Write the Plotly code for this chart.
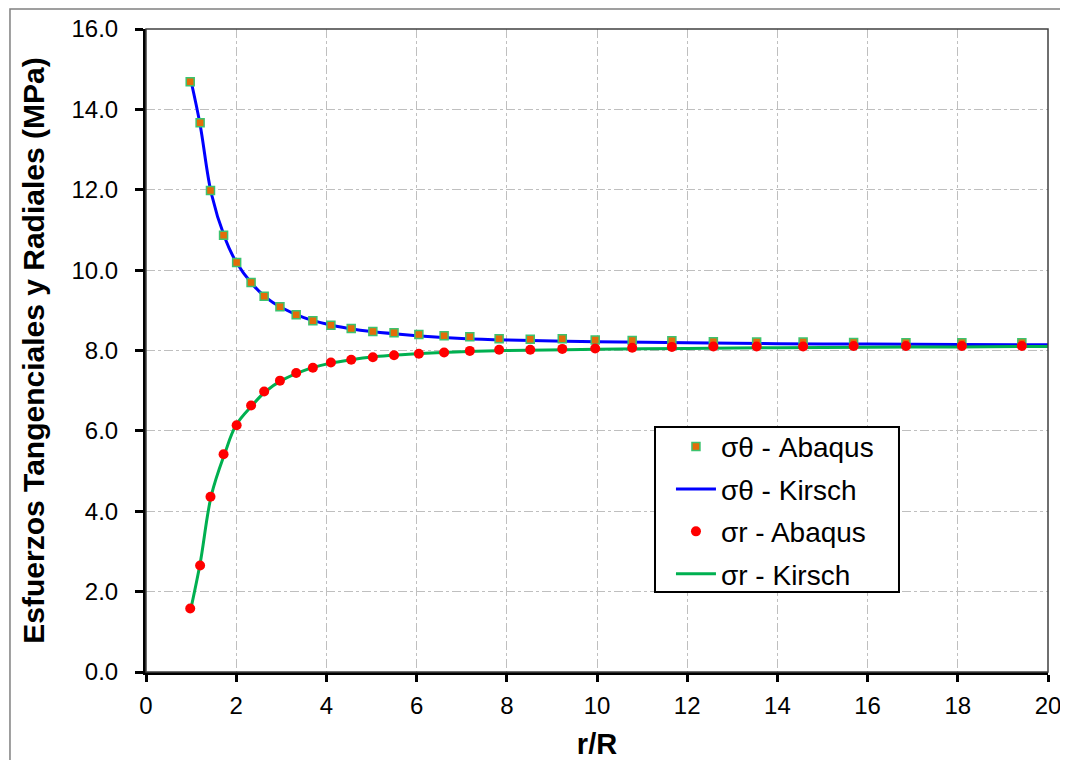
import plotly.graph_objects as go

FONT = "Liberation Sans, Arial, sans-serif"

# r/R of the Abaqus nodes
r_abaqus = [0.98, 1.20, 1.43, 1.72, 2.01, 2.33, 2.62, 2.97, 3.33, 3.70,
            4.10, 4.55, 5.03, 5.50, 6.05, 6.61, 7.18, 7.83, 8.52, 9.23,
            9.96, 10.78, 11.66, 12.58, 13.54, 14.57, 15.69, 16.85, 18.09, 19.42]
sig_t_abaqus = [14.69, 13.67, 11.98, 10.87, 10.19, 9.69, 9.35, 9.09, 8.89, 8.74,
                8.63, 8.55, 8.47, 8.44, 8.40, 8.37, 8.34, 8.29, 8.28, 8.29,
                8.26, 8.25, 8.24, 8.22, 8.21, 8.21, 8.20, 8.19, 8.19, 8.19]
sig_r_abaqus = [1.58, 2.65, 4.36, 5.42, 6.14, 6.63, 6.98, 7.25, 7.44, 7.57,
                7.70, 7.77, 7.83, 7.88, 7.92, 7.95, 7.99, 8.02, 8.02, 8.04,
                8.05, 8.07, 8.09, 8.10, 8.10, 8.10, 8.11, 8.11, 8.11, 8.11]

# Kirsch curves
r_kirsch = [1.0, 1.2, 1.45, 1.75, 2.0, 2.35, 2.65, 3.0, 3.5, 4.0, 4.5,
            5.0, 6.0, 7.0, 8.0, 10.0, 12.0, 14.0, 16.0, 18.0, 20.0]
sig_t_kirsch = [14.70, 13.62, 11.90, 10.80, 10.20, 9.66, 9.33, 9.07, 8.82, 8.66, 8.55,
                8.47, 8.37, 8.30, 8.26, 8.22, 8.19, 8.17, 8.16, 8.15, 8.14]
sig_r_kirsch = [1.60, 2.70, 4.40, 5.45, 6.15, 6.63, 6.98, 7.25, 7.50, 7.66, 7.76,
                7.84, 7.92, 7.97, 8.00, 8.03, 8.05, 8.07, 8.08, 8.09, 8.10]

fig = go.Figure()

fig.add_trace(go.Scatter(
    x=r_kirsch, y=sig_t_kirsch, mode="lines", name="σθ - Kirsch",
    line=dict(color="#0000FF", width=3, shape="spline"),
    legendrank=2, legendgroup="b",
))
fig.add_trace(go.Scatter(
    x=r_kirsch, y=sig_r_kirsch, mode="lines", name="σr - Kirsch",
    line=dict(color="#00B050", width=3, shape="spline"),
    legendrank=4, legendgroup="d",
))
fig.add_trace(go.Scatter(
    x=r_abaqus, y=sig_t_abaqus, mode="markers", name="σθ - Abaqus",
    marker=dict(symbol="square", size=8, color="#E36C09",
                line=dict(color="#3CC36E", width=1.5)),
    legendrank=1, legendgroup="a",
))
fig.add_trace(go.Scatter(
    x=r_abaqus, y=sig_r_abaqus, mode="markers", name="σr - Abaqus",
    marker=dict(symbol="circle", size=10, color="#FF0000", line=dict(width=0)),
    legendrank=3, legendgroup="c",
))

# the page body adds an 8px offset, so the figure is sized to end at the window edge
fig.update_layout(
    width=1060,
    height=752,
    margin=dict(l=138, r=20, t=21, b=88),
    plot_bgcolor="white",
    paper_bgcolor="white",
    font=dict(family=FONT, color="#000000", size=23),
    showlegend=True,
    legend=dict(
        x=0.582, y=0.389, xanchor="left", yanchor="top",
        bgcolor="rgba(0,0,0,0)", borderwidth=0,
        font=dict(family=FONT, size=28, color="#000000"),
        tracegroupgap=3, itemwidth=40,
    ),
    shapes=[
        # outer chart frame
        dict(type="rect", xref="paper", yref="paper",
             x0=-0.1508, x1=1.0177, y0=-0.2, y1=1.0311,
             line=dict(color="#808080", width=1.5), layer="below"),
        # plot area frame
        dict(type="rect", xref="paper", yref="paper",
             x0=0, x1=1, y0=0, y1=1,
             line=dict(color="#404040", width=1.5), layer="above"),
        # legend box
        dict(type="rect", xref="paper", yref="paper",
             x0=0.5643, x1=0.8348, y0=0.1244, y1=0.381,
             fillcolor="white", line=dict(color="#000000", width=2), layer="above"),
    ],
)

fig.update_xaxes(
    range=[0, 20], dtick=2, tick0=0, automargin=False,
    showgrid=True, gridcolor="#BFBFBF", gridwidth=1, griddash="dashdot",
    zeroline=False,
    showline=True, linecolor="#000000", linewidth=3,
    ticks="outside", ticklen=7, tickwidth=3, tickcolor="#000000",
    ticklabelstandoff=3,
    tickfont=dict(family=FONT, size=24, color="#000000"),
    title=dict(text="<b>r/R</b>", font=dict(family=FONT, size=29, color="#000000"),
               standoff=18),
)
fig.update_yaxes(
    range=[0, 16], dtick=2, tick0=0, tickformat=".1f", automargin=False,
    showgrid=True, gridcolor="#BFBFBF", gridwidth=1, griddash="dashdot",
    zeroline=False,
    showline=True, linecolor="#000000", linewidth=3,
    ticks="outside", ticklen=8, tickwidth=3, tickcolor="#000000",
    ticklabelstandoff=12,
    tickfont=dict(family=FONT, size=24, color="#000000"),
    title=dict(text="<b>Esfuerzos Tangenciales y Radiales (MPa)</b>",
               font=dict(family=FONT, size=30, color="#000000"), standoff=18),
)

fig.write_html("out.html")
